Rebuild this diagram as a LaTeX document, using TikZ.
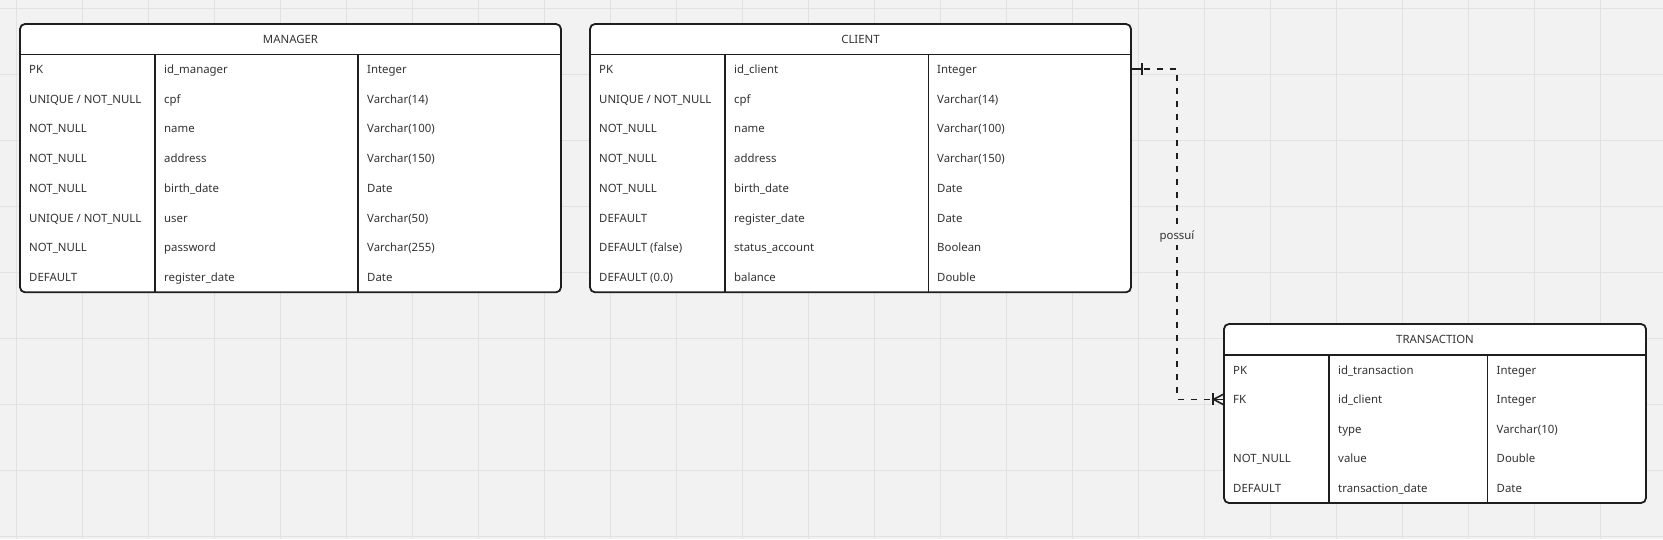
\documentclass[tikz,border=0pt]{standalone}
\usepackage{fontspec}
\setmainfont{Noto Sans}
\definecolor{bgc}{HTML}{F2F2F2}
\definecolor{gridc}{HTML}{E2E2E2}
\definecolor{bordc}{HTML}{1E1E1E}
\definecolor{txtc}{HTML}{333333}
\newcommand\erfont{\fontsize{11.4}{13}\selectfont}
\newcommand\ertrow[8]{%
  \node[cell] (#1a) at (#3,#2) {#6};
  \node[cell] (#1b) at (#4,#2) {#7};
  \node[cell] (#1c) at (#5,#2) {#8};}
\begin{document}
\begin{tikzpicture}[x=1pt,y=-1pt,
  gridline/.style={draw=gridc, line width=1pt},
  tbl/.style={draw=bordc, fill=white, line width=1.8pt, rounded corners=5pt, inner sep=0pt, outer sep=0pt, anchor=north west},
  inner/.style={draw=bordc, line width=1.4pt},
  cell/.style={font=\erfont, text=txtc, anchor=base west, inner sep=0pt},
  ttl/.style={font=\erfont, text=txtc, anchor=base, inner sep=0pt},
  conn/.style={draw=bordc, line width=1.6pt, dash pattern=on 6pt off 7pt},
  mk/.style={draw=bordc, line width=1.6pt},
  lbl/.style={font=\erfont, text=txtc, fill=bgc, inner xsep=1pt, inner ysep=3pt, anchor=base}]
\useasboundingbox (0,0) rectangle (1663,539);
\fill[bgc] (0,0) rectangle (1663,539);
\foreach \x in {16,82,...,1600} \draw[gridline] (\x,0) -- (\x,539);
\foreach \y in {8,74,...,536} \draw[gridline] (0,\y) -- (1663,\y);

% ---------- MANAGER ----------
\node[tbl, minimum width=541pt, minimum height=268.3pt] (manager) at (20,24) {};
\draw[inner] (20,54.3) -- (561,54.3);
\draw[inner] (155,54.3) -- (155,292.3);
\draw[inner] (358,54.3) -- (358,292.3);
\node[ttl] (managerT) at (290.5,43.4) {MANAGER};
\ertrow{m1}{73.4}{29}{164}{367}{PK}{id\_manager}{Integer}
\ertrow{m2}{103.1}{29}{164}{367}{UNIQUE / NOT\_NULL}{cpf}{Varchar(14)}
\ertrow{m3}{132.9}{29}{164}{367}{NOT\_NULL}{name}{Varchar(100)}
\ertrow{m4}{162.6}{29}{164}{367}{NOT\_NULL}{address}{Varchar(150)}
\ertrow{m5}{192.4}{29}{164}{367}{NOT\_NULL}{birth\_date}{Date}
\ertrow{m6}{222.1}{29}{164}{367}{UNIQUE / NOT\_NULL}{user}{Varchar(50)}
\ertrow{m7}{251.9}{29}{164}{367}{NOT\_NULL}{password}{Varchar(255)}
\ertrow{m8}{281.6}{29}{164}{367}{DEFAULT}{register\_date}{Date}

% ---------- CLIENT ----------
\node[tbl, minimum width=541pt, minimum height=268.3pt] (client) at (590,24) {};
\draw[inner] (590,54.3) -- (1131,54.3);
\draw[inner] (725,54.3) -- (725,292.3);
\draw[inner] (928.3,54.3) -- (928.3,292.3);
\node[ttl] (clientT) at (860.5,43.4) {CLIENT};
\ertrow{c1}{73.4}{599}{734}{937}{PK}{id\_client}{Integer}
\ertrow{c2}{103.1}{599}{734}{937}{UNIQUE / NOT\_NULL}{cpf}{Varchar(14)}
\ertrow{c3}{132.9}{599}{734}{937}{NOT\_NULL}{name}{Varchar(100)}
\ertrow{c4}{162.6}{599}{734}{937}{NOT\_NULL}{address}{Varchar(150)}
\ertrow{c5}{192.4}{599}{734}{937}{NOT\_NULL}{birth\_date}{Date}
\ertrow{c6}{222.1}{599}{734}{937}{DEFAULT}{register\_date}{Date}
\ertrow{c7}{251.9}{599}{734}{937}{DEFAULT (false)}{status\_account}{Boolean}
\ertrow{c8}{281.6}{599}{734}{937}{DEFAULT (0.0)}{balance}{Double}

% ---------- TRANSACTION ----------
\node[tbl, minimum width=422pt, minimum height=179pt] (transaction) at (1224,324) {};
\draw[inner] (1224,355) -- (1646,355);
\draw[inner] (1329,355) -- (1329,503);
\draw[inner] (1487.7,355) -- (1487.7,503);
\node[ttl] (transactionT) at (1435,343.7) {TRANSACTION};
\ertrow{t1}{374.0}{1233}{1338}{1496.5}{PK}{id\_transaction}{Integer}
\ertrow{t2}{403.6}{1233}{1338}{1496.5}{FK}{id\_client}{Integer}
\node[cell] (t3b) at (1338,433.2) {type};
\node[cell] (t3c) at (1496.5,433.2) {Varchar(10)};
\ertrow{t4}{462.8}{1233}{1338}{1496.5}{NOT\_NULL}{value}{Double}
\ertrow{t5}{492.4}{1233}{1338}{1496.5}{DEFAULT}{transaction\_date}{Date}

% ---------- relation ----------
\coordinate (cpk) at (1131,69.2);
\coordinate (tfk) at (1224,399.4);
\coordinate (elbow) at (1177,235);
\draw[conn] (cpk) -| (elbow) |- (tfk);
\draw[mk] (cpk) -- ++(11,0);
\draw[mk] (cpk) ++(11,-6) -- ++(0,12);
\draw[mk] (tfk) -- ++(-11,0);
\draw[mk] (tfk) ++(-11,-6) -- ++(0,12);
\draw[mk] (tfk) ++(0,-5.5) -- ++(-10.5,5.5) -- ++(10.5,5.5);
\node[lbl] (possui) at (1177,239.3) {possuí};
\end{tikzpicture}
\end{document}
